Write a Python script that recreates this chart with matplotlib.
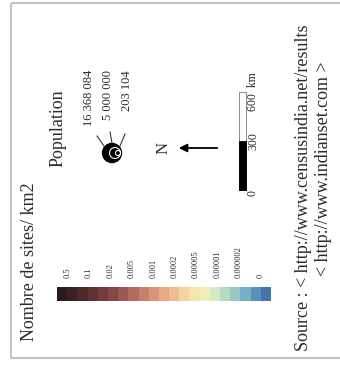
import matplotlib
matplotlib.use("Agg")
import matplotlib.pyplot as plt
from matplotlib.patches import Circle, Rectangle, FancyArrowPatch

# ---- data ----
class_labels = ["0.5", "0.1", "0.02", "0.005", "0.001", "0.0002",
                "0.00005", "0.00001", "0.000002", "0"]
cell_colors = ["#2c1a1c", "#3b2123", "#4c2829", "#5e3132", "#713c3b", "#864846",
               "#9c5752", "#b26a5e", "#c7806d", "#da967c", "#e9a987", "#f2bb91",
               "#f6d1a2", "#f6e4b0", "#ecefbc", "#d2eac0", "#b4dbc1", "#93c8c4",
               "#76afc4", "#5890bd", "#4275aa"]
pop_labels = ["16 368 084", "5 000 000", "203 104"]
pop_radii = [9.5, 5.5, 2.5]
scale_labels = ["0", "300", "600  km"]
scale_values = [0, 300, 600]
title_colorbar = "Nombre de sites/ km2"
title_pop = "Population"
source_lines = ["Source : < http://www.censusindia.net/results",
                "< http://www.indianset.com >"]

serif = ["Liberation Serif", "DejaVu Serif"]

fig = plt.figure(figsize=(3.4, 3.65), dpi=100)
ax = fig.add_axes([0, 0, 1, 1])
ax.set_xlim(0, 340)
ax.set_ylim(365, 0)
ax.axis("off")

# frame
ax.add_patch(Rectangle((11, 3), 340, 355, fill=False, edgecolor="#c4c4c4", lw=1.5))

def rtext(x, y, s, size, ha="left", color="#2a2a2a"):
    ax.text(x, y, s, rotation=90, rotation_mode="anchor", ha=ha, va="center",
            fontsize=size, family=serif, color=color)

# colorbar
cb_x0, cb_x1, cb_y, cb_h = 57, 271, 287, 14
n = len(cell_colors)
cw = (cb_x1 - cb_x0) / n
ax.bar([cb_x0 + cw * (i + 0.5) for i in range(n)], [cb_h] * n, width=cw,
       bottom=cb_y, color=cell_colors, edgecolor="none")
lw_ = (cb_x1 - cb_x0) / len(class_labels)
for i, lab in enumerate(class_labels):
    rtext(cb_x0 + lw_ * (i + 0.5), 278, lab, 6)
rtext(30, 341, title_colorbar, 13)

# population symbol
rtext(58, 167, title_pop, 13)
cx, cy = 112, 153
right = cx + pop_radii[0]
ax.add_patch(Circle((cx, cy), pop_radii[0], facecolor="black", edgecolor="black"))
for r in pop_radii[1:]:
    ax.add_patch(Circle((right - r - 1, cy), r, facecolor="none", edgecolor="white", lw=0.8))
for x, lab in zip([89, 108, 127], pop_labels):
    rtext(x, 70, lab, 9, ha="right")
ax.plot([104, 97], [146, 136], color="#333333", lw=0.8)
ax.plot([112, 110], [143, 132], color="#333333", lw=0.8)
ax.plot([120, 125], [146, 134], color="#333333", lw=0.8)

# north arrow
rtext(164, 148, "N", 12, ha="center")
ax.add_patch(FancyArrowPatch((220, 148), (176, 148), arrowstyle="-|>",
                             mutation_scale=12, color="black", lw=1.3))

# scale bar
sb_x, sb_w, sb_y0, sb_y1 = 239, 7, 190, 92
k = (sb_y0 - sb_y1) / (scale_values[-1] - scale_values[0])
ax.add_patch(Rectangle((sb_x, sb_y1), sb_w, sb_y0 - sb_y1, facecolor="white",
                       edgecolor="#777777", lw=0.6))
ax.add_patch(Rectangle((sb_x, sb_y0 - k * scale_values[1]), sb_w,
                       k * (scale_values[1] - scale_values[0]),
                       facecolor="black", edgecolor="black", lw=0.6))
rtext(253, 193, scale_labels[0], 8.5, ha="center")
rtext(253, 141, scale_labels[1], 8.5, ha="center")
rtext(253, 111, scale_labels[2], 8.5)

# source
rtext(303, 351, source_lines[0], 13)
rtext(323, 276, source_lines[1], 13)

fig.savefig("out.png", dpi=100, facecolor="white")
